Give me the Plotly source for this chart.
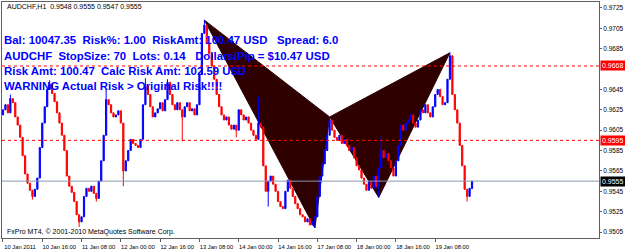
import plotly.graph_objects as go

# ---------------- data (prices in pips: 9625 -> 0.9625) ----------------
first_open = 9620
closes = [
    9625, 9630, 9622, 9636, 9632, 9618, 9610, 9598, 9580, 9562,
    9553, 9546, 9540, 9547, 9558, 9588, 9612, 9628, 9645, 9650,
    9641, 9633, 9622, 9612, 9600, 9585, 9560, 9550, 9544, 9535,
    9522, 9515, 9520, 9540, 9548, 9545, 9550, 9543, 9538, 9555,
    9575, 9600, 9635, 9630, 9622, 9618, 9620, 9624, 9612, 9565,
    9575, 9585, 9596, 9592, 9590, 9588, 9596, 9630, 9648, 9640,
    9628, 9618, 9622, 9626, 9632, 9624, 9635, 9652, 9640, 9630,
    9625, 9632, 9625, 9618, 9628, 9632, 9624, 9626, 9620, 9630,
    9660, 9700, 9708, 9690, 9680, 9668, 9655, 9640, 9628, 9620,
    9615, 9618, 9610, 9606, 9610, 9605, 9625, 9620, 9615, 9618,
    9612, 9605, 9600, 9596, 9612, 9608, 9570, 9545, 9555, 9560,
    9552, 9545, 9535, 9530, 9528, 9545, 9556, 9548, 9540, 9533,
    9528, 9522, 9520, 9515, 9518, 9512, 9515, 9520, 9540, 9560,
    9572, 9585, 9600, 9615, 9605, 9598, 9595, 9600, 9592, 9596,
    9590, 9585, 9588, 9578, 9570, 9566, 9558, 9552, 9546, 9555,
    9548, 9560, 9550, 9568, 9585, 9578, 9582, 9575, 9568, 9560,
    9575, 9590, 9610, 9605, 9612, 9615, 9620, 9612, 9608, 9615,
    9625, 9622, 9630, 9622, 9618, 9628, 9640, 9645, 9638, 9630,
    9632, 9655, 9678, 9640, 9625, 9612, 9590, 9570, 9547, 9540,
    9548, 9555,
]
high_wicks = {3: 9640, 19: 9654, 42: 9645, 58: 9656, 67: 9655, 82: 9713,
              104: 9638, 133: 9618, 154: 9600, 182: 9681, 183: 9672, 191: 9555}
low_wicks = {12: 9537, 31: 9510, 38: 9535, 49: 9550, 73: 9594, 95: 9598,
             108: 9530, 127: 9509, 153: 9539, 189: 9535, 191: 9547}

# harmonic pattern points X, A, B, C, D
pattern_idx = [82, 127, 133, 153, 182]
pattern_price = [9713, 9509, 9618, 9539, 9681]

# horizontal lines
red_levels = [0.9668, 0.9595]
gray_level = 0.9555

x_tick_idx = [0, 16, 32, 48, 64, 80, 96, 112, 128, 144, 160, 176]
x_tick_text = ["10 Jan 2011", "10 Jan 16:00", "11 Jan 08:00", "12 Jan 00:00",
               "12 Jan 16:00", "13 Jan 08:00", "14 Jan 00:00", "14 Jan 16:00",
               "17 Jan 08:00", "18 Jan 00:00", "18 Jan 16:00", "19 Jan 08:00"]
# 0.9665 sits behind the 0.9668 price box in the reference
y_tick_vals = [0.9505, 0.9525, 0.9545, 0.9565, 0.9585, 0.9605, 0.9625,
               0.9645, 0.9685, 0.9705, 0.9725]

header_text = "AUDCHF,H1  0.9548 0.9555 0.9547 0.9555"
info_lines = [
    "Bal: 10047.35  Risk%: 1.00  RiskAmt: 100.47 USD   Spread: 6.0",
    "AUDCHF  StopSize: 70  Lots: 0.14   Dollars/Pip = $10.47 USD",
    "Risk Amt: 100.47  Calc Risk Amt: 102.59 USD",
    "WARNING Actual Risk > Original Risk!!!!",
]
footer_text = "FxPro MT4, © 2001-2010 MetaQuotes Software Corp."

# ---------------- build OHLC ----------------
P = 10000.0
opens = [first_open] + closes[:-1]
opens[-1] = 9548
highs, lows = [], []
for i, (o, c) in enumerate(zip(opens, closes)):
    highs.append(high_wicks.get(i, max(o, c)))
    lows.append(low_wicks.get(i, min(o, c)))
idx = list(range(len(closes)))

W, H = 625, 251
ML, MR, MT, MB = 1, 21, 1, 10
X_RANGE = [-0.4, 242.7]
Y_RANGE = [0.94992, 0.97308]
FONT = "Liberation Sans, Arial"


def ypaper(px):
    return (H - MB - px) / (H - MT - MB)


fig = go.Figure()
fig.add_trace(go.Candlestick(
    x=idx, open=[v / P for v in opens], high=[v / P for v in highs],
    low=[v / P for v in lows], close=[v / P for v in closes],
    increasing=dict(line=dict(color="#0000FF", width=1), fillcolor="#0000FF"),
    decreasing=dict(line=dict(color="#FF0000", width=1), fillcolor="#FF0000"),
    whiskerwidth=0, hoverinfo="skip", showlegend=False,
))

shapes = []
# two filled triangles X-A-B and B-C-D
for tri in ([0, 1, 2], [2, 3, 4]):
    path = "M " + " L ".join(f"{pattern_idx[k]},{pattern_price[k] / P}" for k in tri) + " Z"
    shapes.append(dict(type="path", path=path, xref="x", yref="y",
                       fillcolor="#2e0000", line=dict(color="#2e0000", width=1),
                       layer="below"))
for lv in red_levels:
    shapes.append(dict(type="line", xref="paper", x0=0, x1=1, yref="y", y0=lv, y1=lv,
                       line=dict(color="#FF0000", width=1, dash="dot"), layer="above"))
shapes.append(dict(type="line", xref="paper", x0=0, x1=1, yref="y", y0=gray_level,
                   y1=gray_level, line=dict(color="#8a98ac", width=1), layer="above"))

annotations = []
annotations.append(dict(text=header_text, xref="paper", yref="paper", x=0, y=ypaper(6),
                        xanchor="left", yanchor="middle", xshift=3, showarrow=False,
                        font=dict(family=FONT, size=7, color="#000000")))
for k, line in enumerate(info_lines):
    annotations.append(dict(text=f"<b>{line}</b>", xref="paper", yref="paper", x=0,
                            y=ypaper([40, 55.5, 71, 86.7][k]), xanchor="left",
                            yanchor="middle", xshift=0, showarrow=False,
                            font=dict(family=FONT, size=11.4, color="#0000FF")))
annotations.append(dict(text=footer_text, xref="paper", yref="paper", x=0, y=ypaper(235),
                        xanchor="left", yanchor="middle", xshift=3, showarrow=False,
                        font=dict(family=FONT, size=7, color="#000000")))
for lv, bg in [(red_levels[0], "#FF0000"), (red_levels[1], "#FF0000"), (gray_level, "#000000")]:
    annotations.append(dict(text=f"{lv:.4f}", xref="paper", yref="y", x=1, y=lv,
                            xanchor="left", yanchor="middle", xshift=1, showarrow=False,
                            bgcolor=bg, borderpad=1,
                            font=dict(family=FONT, size=7, color="#FFFFFF")))

fig.update_layout(
    width=W, height=H, margin=dict(l=ML, r=MR, t=MT, b=MB),
    paper_bgcolor="#FFFFFF", plot_bgcolor="#FFFFFF",
    shapes=shapes, annotations=annotations, showlegend=False,
    xaxis=dict(range=X_RANGE, tickvals=x_tick_idx, ticktext=x_tick_text,
               showgrid=False, zeroline=False, rangeslider=dict(visible=False),
               showline=True, linecolor="#606060", linewidth=1, mirror=True,
               ticks="outside", ticklen=3, tickcolor="#606060", tickangle=0,
               ticklabelshift=17, ticklabelstandoff=0,
               tickfont=dict(family=FONT, size=5.8, color="#000000")),
    yaxis=dict(range=Y_RANGE, side="right", tickvals=y_tick_vals,
               tickformat=".4f", showgrid=False, zeroline=False,
               showline=True, linecolor="#606060", linewidth=1, mirror=True,
               ticks="outside", ticklen=2, tickcolor="#606060", ticklabelstandoff=0,
               tickfont=dict(family=FONT, size=6.5, color="#000000")),
)

fig.write_html("out.html")
